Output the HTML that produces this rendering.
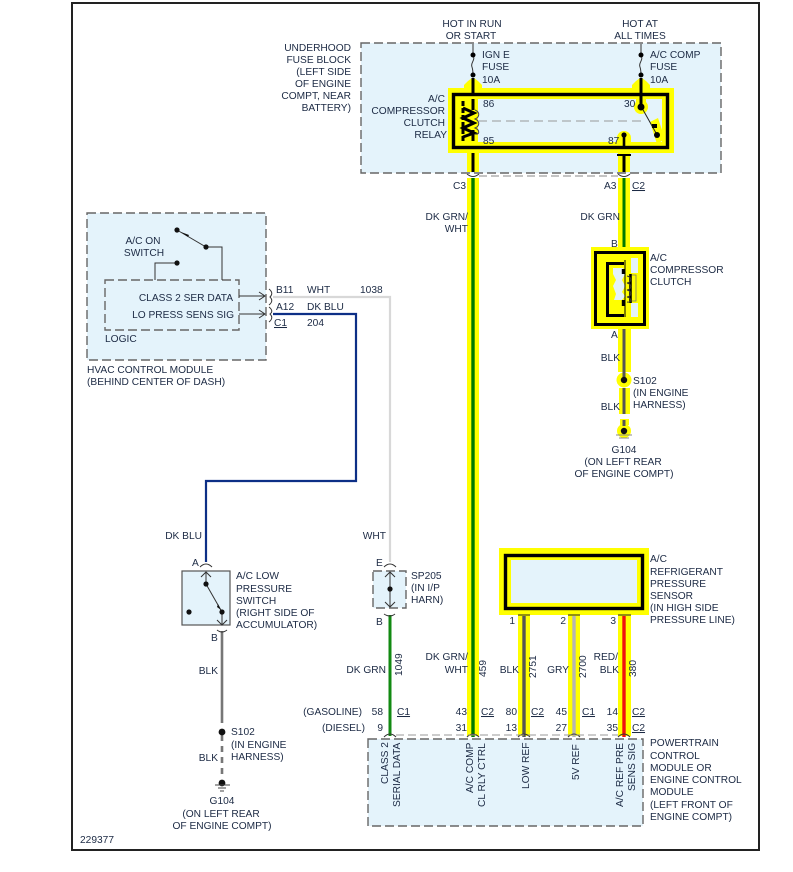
<!DOCTYPE html>
<html><head><meta charset="utf-8"><style>
html,body{margin:0;padding:0;background:#fff;width:793px;height:872px;overflow:hidden}
svg{display:block}
text{font-family:"Liberation Sans",sans-serif;font-size:10.2px;fill:#1c2a44}
.e{text-anchor:end}.m{text-anchor:middle}
</style></head><body>
<svg width="793" height="872" viewBox="0 0 793 872" xmlns="http://www.w3.org/2000/svg">
<rect x="72" y="3" width="687" height="847" fill="#fff" stroke="#222" stroke-width="2"/>

<!-- boxes -->
<g fill="#e4f3fb" stroke="#666" stroke-width="1.4" stroke-dasharray="9 4">
<rect x="361" y="43" width="360" height="130"/>
<rect x="87" y="213" width="179" height="147"/>
<rect x="105" y="280" width="134" height="50"/>
<rect x="373" y="571" width="33" height="37"/>
<rect x="368" y="739" width="275" height="87"/>
</g>
<rect x="182" y="571" width="48" height="54" fill="#e4f3fb" stroke="#555" stroke-width="1.2"/>

<!-- yellow highlights -->
<g fill="#ffff00">
<rect x="448" y="88" width="226" height="65"/>
<rect x="591" y="247" width="58" height="82"/>
<rect x="499" y="548" width="150" height="67"/>
<rect x="467" y="153" width="12" height="19"/>
<rect x="467" y="178" width="12" height="558"/>
<rect x="618" y="153" width="12" height="19"/>
<rect x="618" y="178" width="12" height="69"/>
<path d="M468 88V81L472 78H474L478 81V88zM636 88V81L640 78H642L646 81V88z"/>
<path d="M464 88V85L468 81V88zM482 88V85L478 81V88zM632 88V85L636 81V88zM650 88V85L646 81V88z"/>
<rect x="618" y="329" width="13" height="43"/>
<rect x="619" y="388" width="11" height="26"/>
<rect x="620" y="419" width="9" height="6"/>
<circle cx="624" cy="380" r="7.5"/>
<circle cx="624" cy="431" r="7"/>
<rect x="518" y="615" width="12" height="121"/>
<rect x="568" y="615" width="12" height="121"/>
<rect x="618" y="615" width="13" height="121"/>
</g>
<!-- interiors -->
<rect x="458" y="99" width="204" height="43" fill="#e4f3fb"/>
<rect x="511" y="560" width="126" height="43" fill="#e4f3fb"/>
<g fill="#ffff00">
<circle cx="641" cy="107" r="7"/>
<rect x="636" y="96" width="10" height="10"/>
<circle cx="624" cy="138" r="7"/><rect x="617" y="138" width="14" height="6"/>
<path d="M650 122l8-4 7 21-8 5z"/>
<rect x="458" y="99" width="20" height="44"/>
<rect x="600" y="257" width="40" height="62"/>
</g>
<g fill="#e4f3fb">
<rect x="631" y="258" width="7" height="15"/><rect x="631" y="303" width="7" height="14"/>
<path d="M613 268h10l2 6-3 6 3 6-3 6 3 4-3 4h-8l2-6-3-8 3-6-3-6z"/>
</g>

<!-- black component outlines -->
<g fill="none" stroke="#000">
<rect x="453.5" y="94.500" width="214" height="53" stroke-width="3.4"/>
<rect x="505.500" y="555.500" width="137" height="53" stroke-width="3.4"/>
<rect x="595.500" y="252.500" width="49" height="72" stroke-width="3"/>
<path d="M624 263.500H607.500V315.500H624" stroke-width="3"/>
<path d="M625 260V317" stroke-width="1"/>
<path d="M623.500 269v5M623.500 300v6" stroke-width="3.4"/>
<path d="M630.500 274v29" stroke-width="2.6"/>
<path d="M632 275h4v26h-4" stroke="#777" stroke-width="0.8"/>
<path d="M473 78v16M641 78v16" stroke-width="3"/>
<path d="M473 153v19M624 155v17" stroke-width="3"/>
<path d="M641 94v12" stroke-width="3"/>
<path d="M624 135v13" stroke-width="2.6"/>
<path d="M617 155h14" stroke-width="2"/>
<path d="M463 101v40" stroke-width="3" stroke-dasharray="5 2"/>
<path d="M473 99v11M473 130v11" stroke-width="3"/>
<path d="M463 108l11 5-11 5 11 5-11 5 11 5-11 4" stroke-width="3"/>
<path d="M475 110c5 2 5 7 0 9c5 2 5 7 0 9c5 2 5 7 0 6" stroke="#444" stroke-width="1"/>
<path d="M478 121H642" stroke="#999" stroke-width="1" stroke-dasharray="9 5"/>
<path d="M642 108l14 25" stroke="#222" stroke-width="1"/>
<path d="M627 276c5 1 5 6 0 7c5 1 5 6 0 7c5 1 5 6 0 7c5 1 5 6 0 5" stroke="#333" stroke-width="1"/>
</g>
<g fill="#000">
<circle cx="641" cy="107" r="3.500"/><circle cx="624" cy="135" r="2.600"/>
<circle cx="657" cy="135" r="3"/><rect x="652" y="124" width="5" height="4"/>
</g>

<!-- wires -->
<g fill="none">
<path d="M473 178V737" stroke="#007a00" stroke-width="3.400"/>
<path d="M624 178V247" stroke="#007a00" stroke-width="3"/>
<path d="M624 329V378M624 388V414M624 420V426" stroke="#555" stroke-width="3"/>
<path d="M524 616V737" stroke="#555" stroke-width="3.400"/>
<path d="M574 616V737" stroke="#b5b5b5" stroke-width="3.400"/>
<path d="M624 616V737" stroke="#f01010" stroke-width="3.400"/>
<path d="M390 615V736" stroke="#128a12" stroke-width="3"/>
<path d="M273 297H390V562" stroke="#d8d8d8" stroke-width="2.200"/>
<path d="M273 314H356V481H206V562" stroke="#0d2f86" stroke-width="2.200"/>
<path d="M222 631V723" stroke="#777" stroke-width="2.600"/>
<path d="M222 735V778" stroke="#777" stroke-width="2.600" stroke-dasharray="6 5"/>
<path d="M518 615h12M568 615h12M618 615h13" stroke="#222" stroke-width="1"/>
</g>

<!-- fuses -->
<g fill="none" stroke="#333" stroke-width="1">
<path d="M473 44V55c3 5-3 8-1 12 1 3 1 5 1 8"/><path d="M641 44V55c3 5-3 8-1 12 1 3 1 5 1 8"/>
</g>
<g fill="#000"><circle cx="473" cy="55" r="2.500"/><circle cx="473" cy="75" r="2.500"/><circle cx="641" cy="55" r="2.500"/><circle cx="641" cy="75" r="2.500"/></g>

<!-- connector arcs -->
<g fill="none" stroke="#333" stroke-width="1">
<path d="M479 176H618" stroke="#888" stroke-dasharray="8 4"/>
<path d="M467 174q6 5 12 0M618 174q6 5 12 0"/>
<path d="M200 567q6-6 12 0M384 567q6-6 12 0M217 630q5 4 10 0M384 614q6 4 11 0"/>
<path d="M384 737q6-6 12 0M467 737q6-6 12 0M518 737q6-6 12 0M568 737q6-6 12 0M618 737q6-6 12 0"/>
<path d="M396 735H618" stroke="#999" stroke-dasharray="8 4"/>
<path d="M269 289q5 4 1 8q4 4-1 8M269 307q5 4 1 7q4 4-1 8"/>
<path d="M239 296H265M259 292l6 4-6 4M239 314H265M259 310l6 4-6 4"/>
<path d="M206 572V584M222 612V625"/>
<path d="M201 577l5-5 5 5M385 577l5-5 5 5M390 572V607M385 602l5 5 5-5M217 620l5 5 5-5"/>
<path d="M206 584L222 612"/>
<path d="M155 280V263H177M222 280V247H206L177 230"/>
</g>
<g fill="#111">
<circle cx="177" cy="230" r="2.600"/><circle cx="206" cy="247" r="2.600"/><circle cx="177" cy="263" r="2.600"/>
<path d="M181 232l8 3-1 2z"/>
<path d="M218 604l3 6-4-3z"/>
<circle cx="206" cy="584" r="2.600"/><circle cx="189" cy="612" r="2.600"/><circle cx="222" cy="612" r="2.600"/>
<circle cx="390" cy="589" r="2.600"/>
<circle cx="222" cy="732" r="3.400"/><circle cx="222" cy="783" r="3.400"/>
<circle cx="624" cy="380" r="3.200"/><circle cx="624" cy="431" r="3.200"/>
</g>
<g stroke="#444" stroke-width="1"><path d="M215 785h15M218 788h8M220 791h4"/></g>
<path d="M616 435h16M619 438h10" stroke="#888" stroke-width="1"/>

<!-- text -->
<text class="m" x="472" y="27">HOT IN RUN</text><text class="m" x="471" y="39">OR START</text>
<text class="m" x="640" y="27">HOT AT</text><text class="m" x="640" y="39">ALL TIMES</text>
<text x="482" y="58">IGN E</text><text x="482" y="70">FUSE</text><text x="482" y="83">10A</text>
<text x="650" y="58">A/C COMP</text><text x="650" y="70">FUSE</text><text x="650" y="83">10A</text>
<text class="e" x="351" y="51">UNDERHOOD</text><text class="e" x="351" y="63">FUSE BLOCK</text><text class="e" x="351" y="75">(LEFT SIDE</text><text class="e" x="351" y="87">OF ENGINE</text><text class="e" x="351" y="99">COMPT, NEAR</text><text class="e" x="351" y="111">BATTERY)</text>
<text class="e" x="445" y="102">A/C</text><text class="e" x="445" y="114">COMPRESSOR</text><text class="e" x="445" y="126">CLUTCH</text><text class="e" x="447" y="138">RELAY</text>
<text x="483" y="107">86</text><text x="483" y="144">85</text><text x="624" y="107">30</text><text x="608" y="144">87</text>
<text x="453" y="189">C3</text><text x="604" y="189">A3</text><text x="632" y="189" text-decoration="underline">C2</text>
<text class="e" x="468" y="220">DK GRN/</text><text class="e" x="468" y="232">WHT</text>
<text class="e" x="620" y="220">DK GRN</text>
<text x="611" y="247">B</text>
<text x="650" y="261">A/C</text><text x="650" y="273">COMPRESSOR</text><text x="650" y="285">CLUTCH</text>
<text x="611" y="338">A</text><text class="e" x="620" y="361">BLK</text>
<text x="633" y="384">S102</text><text x="633" y="396">(IN ENGINE</text><text x="633" y="408">HARNESS)</text>
<text class="e" x="620" y="410">BLK</text>
<text class="m" x="624" y="453">G104</text><text class="m" x="623" y="465">(ON LEFT REAR</text><text class="m" x="624" y="477">OF ENGINE COMPT)</text>

<text class="m" x="143" y="244">A/C ON</text><text class="m" x="144" y="256">SWITCH</text>
<text class="e" x="233" y="301">CLASS 2 SER DATA</text><text class="e" x="234" y="318">LO PRESS SENS SIG</text>
<text x="105" y="342">LOGIC</text>
<text x="87" y="373">HVAC CONTROL MODULE</text><text x="87" y="385">(BEHIND CENTER OF DASH)</text>
<text x="276" y="293">B11</text><text x="307" y="293">WHT</text><text x="360" y="293">1038</text>
<text x="276" y="310">A12</text><text x="307" y="310">DK BLU</text>
<text x="274" y="326" text-decoration="underline">C1</text><text x="307" y="326">204</text>

<text class="e" x="202" y="539">DK BLU</text><text class="e" x="386" y="539">WHT</text>
<text x="192" y="566">A</text><text x="376" y="566">E</text>
<text x="236" y="579">A/C LOW</text><text x="236" y="592">PRESSURE</text><text x="236" y="604">SWITCH</text><text x="236" y="616">(RIGHT SIDE OF</text><text x="236" y="628">ACCUMULATOR)</text>
<text x="411" y="579">SP205</text><text x="411" y="591">(IN I/P</text><text x="411" y="603">HARN)</text>
<text x="211" y="641">B</text><text x="376" y="625">B</text>
<text class="e" x="218" y="674">BLK</text><text class="e" x="218" y="761">BLK</text>
<text x="231" y="735">S102</text><text x="231" y="748">(IN ENGINE</text><text x="231" y="760">HARNESS)</text>
<text class="m" x="222" y="804">G104</text><text class="m" x="221" y="817">(ON LEFT REAR</text><text class="m" x="222" y="829">OF ENGINE COMPT)</text>
<text x="80" y="843">229377</text>

<text class="e" x="386" y="673">DK GRN</text>
<text class="e" x="468" y="660">DK GRN/</text><text class="e" x="468" y="673">WHT</text>
<text class="e" x="519" y="673">BLK</text><text class="e" x="569" y="673">GRY</text>
<text class="e" x="618" y="660">RED/</text><text class="e" x="619" y="673">BLK</text>
<g>
<text transform="translate(402,676) rotate(-90)">1049</text>
<text transform="translate(486,677) rotate(-90)">459</text>
<text transform="translate(536,678) rotate(-90)">2751</text>
<text transform="translate(586,678) rotate(-90)">2700</text>
<text transform="translate(636,677) rotate(-90)">380</text>
</g>
<text x="515" y="624" class="e">1</text><text x="566" y="624" class="e">2</text><text x="616" y="624" class="e">3</text>
<text x="650" y="562">A/C</text><text x="650" y="575">REFRIGERANT</text><text x="650" y="587">PRESSURE</text><text x="650" y="599">SENSOR</text><text x="650" y="611">(IN HIGH SIDE</text><text x="650" y="623">PRESSURE LINE)</text>

<text class="e" x="362" y="715">(GASOLINE)</text><text class="e" x="365" y="731">(DIESEL)</text>
<text class="e" x="383" y="715">58</text><text class="e" x="383" y="731">9</text>
<text x="397" y="715" text-decoration="underline">C1</text>
<text class="e" x="467" y="715">43</text><text class="e" x="467" y="731">31</text><text x="481" y="715" text-decoration="underline">C2</text>
<text class="e" x="517" y="715">80</text><text class="e" x="517" y="731">13</text><text x="531" y="715" text-decoration="underline">C2</text>
<text class="e" x="567" y="715">45</text><text class="e" x="567" y="731">27</text><text x="582" y="715" text-decoration="underline">C1</text>
<text class="e" x="618" y="715">14</text><text class="e" x="618" y="731">35</text><text x="632" y="715" text-decoration="underline">C2</text><text x="632" y="731" text-decoration="underline">C2</text>

<text transform="translate(388,784) rotate(-90)">CLASS 2</text>
<text transform="translate(400,807) rotate(-90)">SERIAL DATA</text>
<text transform="translate(473,793) rotate(-90)">A/C  COMP</text>
<text transform="translate(485,807) rotate(-90)">CL RLY CTRL</text>
<text transform="translate(529,789) rotate(-90)">LOW REF</text>
<text transform="translate(579,780) rotate(-90)">5V REF</text>
<text transform="translate(623,807) rotate(-90)">A/C REF PRE</text>
<text transform="translate(635,791) rotate(-90)">SENS SIG</text>
<text x="650" y="746">POWERTRAIN</text><text x="650" y="759">CONTROL</text><text x="650" y="771">MODULE OR</text><text x="650" y="783">ENGINE CONTROL</text><text x="650" y="795">MODULE</text><text x="650" y="808">(LEFT FRONT OF</text><text x="650" y="820">ENGINE COMPT)</text>
</svg>
</body></html>
